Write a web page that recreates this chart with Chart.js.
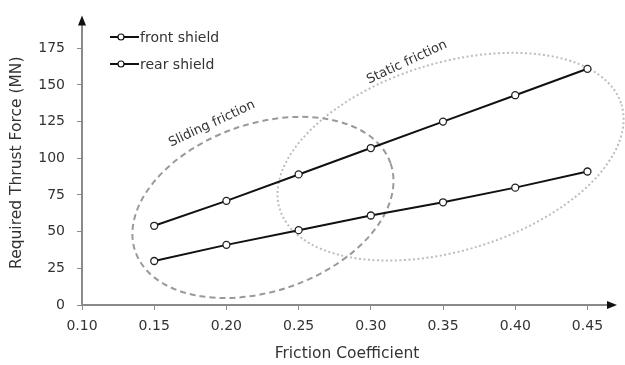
<!DOCTYPE html>
<html>
<head>
<meta charset="utf-8">
<script src="https://cdn.jsdelivr.net/npm/chart.js@4.4.1/dist/chart.umd.min.js"></script>
<style>
  html, body { margin: 0; padding: 0; background: #fff; }
  #wrap { width: 625px; height: 365px; }
</style>
</head>
<body>
<div id="wrap"><canvas id="thrustChart"></canvas></div>
<script>
// friction coefficient vs. required thrust force
const frictionCoeff = [0.15, 0.2, 0.25, 0.3, 0.35, 0.4, 0.45]
const frontShield = [54, 71, 89, 107, 125, 143, 161]
const rearShield = [30, 41, 51, 61, 70, 80, 91]

const xTicks = [0.1, 0.15, 0.2, 0.25, 0.3, 0.35, 0.4, 0.45]
const yTicks = [0, 25, 50, 75, 100, 125, 150, 175]

// friction regions: centre (x, y), semi axes in x units, tilt in degrees
const slidingRegion = [0.2253, 66.5, 0.0935, 0.058, 19]
const staticRegion = [0.3552, 101.1, 0.1237, 0.065, 17]
const regionLabels = ["Sliding friction", "Static friction"]
const regionLabelPos = [[0.19, 123.5], [0.325, 165.5]]

const font = "DejaVu Sans, Liberation Sans, sans-serif"
const textColor = "#333"
const axisColor = "#8a8a8a"

const pointStyle = {
    borderColor: "#111",
    backgroundColor: "#111",
    borderWidth: 2,
    pointRadius: 3.5,
    pointHoverRadius: 3.5,
    pointBackgroundColor: "#fff",
    pointBorderColor: "#222",
    pointBorderWidth: 1.3,
    tension: 0,
}

const regions = {
    id: "regions",
    beforeDatasetsDraw(chart) {
        const { ctx, scales: { x, y } } = chart
        const pxPerX = Math.abs(x.getPixelForValue(1) - x.getPixelForValue(0))
        const drawRegion = (r, color, dash, width) => {
            ctx.save()
            ctx.translate(x.getPixelForValue(r[0]), y.getPixelForValue(r[1]))
            ctx.rotate(-r[4] * Math.PI / 180)
            ctx.beginPath()
            ctx.ellipse(0, 0, r[2] * pxPerX, r[3] * pxPerX, 0, 0, Math.PI * 2)
            ctx.strokeStyle = color
            ctx.lineWidth = width
            ctx.setLineDash(dash)
            ctx.stroke()
            ctx.restore()
        }
        drawRegion(staticRegion, "#bdbdbd", [2, 2.5], 2)
        drawRegion(slidingRegion, "#9a9a9a", [6, 4], 2)

        ctx.save()
        ctx.font = "13px " + font
        ctx.fillStyle = textColor
        ctx.textAlign = "center"
        ctx.textBaseline = "middle"
        regionLabels.forEach((label, i) => {
            ctx.save()
            ctx.translate(x.getPixelForValue(regionLabelPos[i][0]), y.getPixelForValue(regionLabelPos[i][1]))
            ctx.rotate(-25 * Math.PI / 180)
            ctx.fillText(label, 0, 0)
            ctx.restore()
        })
        ctx.restore()
    },
    afterDraw(chart) {
        const { ctx, chartArea: area } = chart
        ctx.save()
        ctx.fillStyle = "#111"
        // arrow heads at the axis ends
        ctx.beginPath()
        ctx.moveTo(area.left, area.top - 5)
        ctx.lineTo(area.left - 4, area.top + 5)
        ctx.lineTo(area.left + 4, area.top + 5)
        ctx.fill()
        ctx.beginPath()
        ctx.moveTo(area.right + 5, area.bottom)
        ctx.lineTo(area.right - 5, area.bottom - 4)
        ctx.lineTo(area.right - 5, area.bottom + 4)
        ctx.fill()

        // legend
        ctx.font = "14px " + font
        ctx.textBaseline = "middle"
        chart.data.datasets.forEach((ds, i) => {
            const ly = 37 + i * 27
            ctx.strokeStyle = "#111"
            ctx.lineWidth = 2
            ctx.beginPath()
            ctx.moveTo(110, ly)
            ctx.lineTo(139, ly)
            ctx.stroke()
            ctx.beginPath()
            ctx.arc(121, ly, 3, 0, Math.PI * 2)
            ctx.fillStyle = "#fff"
            ctx.fill()
            ctx.lineWidth = 1.2
            ctx.stroke()
            ctx.fillStyle = textColor
            ctx.fillText(ds.label, 140, ly + 1)
        })
        ctx.restore()
    },
}

new Chart(document.getElementById("thrustChart"), {
    type: "line",
    data: {
        datasets: [
            {
                label: "front shield",
                data: frictionCoeff.map((f, i) => ({ x: f, y: frontShield[i] })),
                ...pointStyle,
            },
            {
                label: "rear shield",
                data: frictionCoeff.map((f, i) => ({ x: f, y: rearShield[i] })),
                ...pointStyle,
            },
        ],
    },
    options: {
        responsive: true,
        maintainAspectRatio: false,
        animation: false,
        layout: { padding: { top: 15, right: 13, left: 0, bottom: 0 } },
        plugins: {
            legend: { display: false },
            tooltip: { enabled: false },
        },
        scales: {
            x: {
                type: "linear",
                min: 0.1,
                max: 0.467,
                afterBuildTicks: (scale) => {
                    scale.ticks = xTicks.map((v) => ({ value: v }))
                },
                afterFit: (scale) => {
                    scale.height = 60
                },
                border: { color: axisColor, width: 2 },
                grid: {
                    drawOnChartArea: false,
                    color: axisColor,
                    tickLength: 5,
                    lineWidth: 1,
                },
                ticks: {
                    color: textColor,
                    font: { family: font, size: 14 },
                    padding: 8,
                    callback: (v) => v.toFixed(2),
                },
                title: {
                    display: true,
                    text: "Friction Coefficient",
                    color: textColor,
                    font: { family: font, size: 15.5 },
                    padding: { top: 4, bottom: 2 },
                },
            },
            y: {
                min: 0,
                max: 194,
                afterBuildTicks: (scale) => {
                    scale.ticks = yTicks.map((v) => ({ value: v }))
                },
                afterFit: (scale) => {
                    scale.width = 82
                },
                border: { color: axisColor, width: 2 },
                grid: {
                    drawOnChartArea: false,
                    color: axisColor,
                    tickLength: 5,
                    lineWidth: 1,
                },
                ticks: {
                    color: textColor,
                    font: { family: font, size: 14 },
                    padding: 12,
                },
                title: {
                    display: true,
                    text: "Required Thrust Force (MN)",
                    color: textColor,
                    font: { family: font, size: 15.5 },
                    padding: { top: 8, bottom: 0 },
                },
            },
        },
    },
    plugins: [regions],
})
</script>
</body>
</html>
